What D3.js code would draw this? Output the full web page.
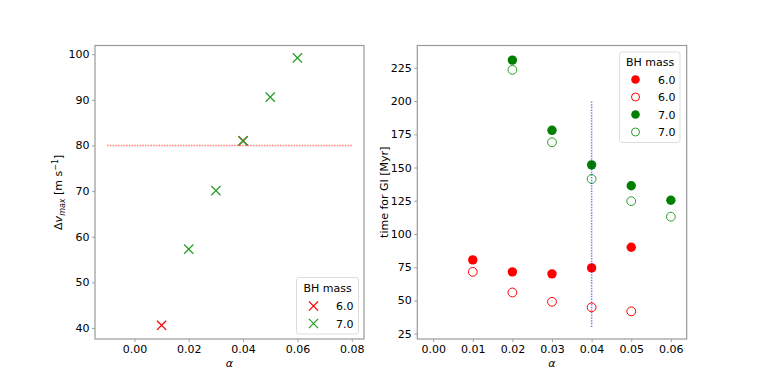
<!DOCTYPE html>
<html>
<head>
<meta charset="utf-8">
<script src="https://cdn.jsdelivr.net/npm/d3@7"></script>
<style>
  body { margin: 0; background: #fff; }
  text { font-family: "DejaVu Sans", sans-serif; }
</style>
</head>
<body>
<div id="chart"></div>
<script>
// left panel: delta v max vs alpha
var alphaLeft6 = [0.01, 0.04];
var dvLeft6 = [40.6, 81];
var alphaLeft7 = [0.02, 0.03, 0.04, 0.05, 0.06];
var dvLeft7 = [57.3, 70.1, 81, 90.6, 99.2];
var hlineX = [-0.01, 0.08];
var hlineY = 80;
var leftXTicks = [0.00, 0.02, 0.04, 0.06, 0.08];
var leftYTicks = [40, 50, 60, 70, 80, 90, 100];

// right panel: time for GI
var alphaRight = [0.01, 0.02, 0.03, 0.04, 0.05, 0.06];
var red6Filled = [80.5, 71.5, 70, 74.5, 90, null];
var red6Open = [71.5, 56, 49, 44.8, 41.8, null];
var green7Filled = [null, 230.8, 178, 152, 136.3, 125.4];
var green7Open = [null, 223.5, 169, 141.4, 124.7, 113];
var vlineX = 0.04;
var vlineY = [30, 200];
var rightXTicks = [0.00, 0.01, 0.02, 0.03, 0.04, 0.05, 0.06];
var rightYTicks = [25, 50, 75, 100, 125, 150, 175, 200, 225];

var red = "#ff0000", green = "#008000", green2 = "#2ca02c";
var fs = 11;

var svg = d3.select("#chart").append("svg")
    .attr("width", 763).attr("height", 382);

var top_y = 45.5, bottom_y = 339;

function frame(g, x0, x1, xs, ys, xticks, yticks, xfmt) {
    var xAxis = g.append("g").attr("transform", "translate(0," + bottom_y + ")")
        .call(d3.axisBottom(xs).tickValues(xticks).tickFormat(xfmt).tickSize(3).tickPadding(3));
    var yAxis = g.append("g").attr("transform", "translate(" + x0 + ",0)")
        .call(d3.axisLeft(ys).tickValues(yticks).tickSize(3).tickPadding(2.5));
    [xAxis, yAxis].forEach(function (a) {
        a.select(".domain").remove();
        a.selectAll("line").attr("stroke", "#888").attr("stroke-width", 0.8);
        a.selectAll("text").attr("font-size", fs).attr("fill", "#000")
            .attr("font-family", "DejaVu Sans, sans-serif");
    });
    g.append("rect").attr("x", x0).attr("y", top_y)
        .attr("width", x1 - x0).attr("height", bottom_y - top_y)
        .attr("fill", "none").attr("stroke", "#999").attr("stroke-width", 1.2);
    g.append("text").attr("x", (x0 + x1) / 2).attr("y", 367)
        .attr("text-anchor", "middle").attr("font-size", fs).attr("font-style", "italic")
        .text("α");
}

function xMark(g, cx, cy, color) {
    var s = 4.6;
    g.append("path")
        .attr("d", "M" + (cx - s) + "," + (cy - s) + "L" + (cx + s) + "," + (cy + s) +
                   "M" + (cx - s) + "," + (cy + s) + "L" + (cx + s) + "," + (cy - s))
        .attr("stroke", color).attr("stroke-width", 1.3).attr("fill", "none");
}

// ---------- left panel ----------
var L = svg.append("g");
var lx0 = 95, lx1 = 364;
var xL = d3.scaleLinear().domain([-0.0145, 0.0845]).range([lx0, lx1]);
var yL = d3.scaleLinear().domain([37.6, 101.9]).range([bottom_y, top_y]);
frame(L, lx0, lx1, xL, yL, leftXTicks, leftYTicks, d3.format(".2f"));

alphaLeft6.forEach(function (a, i) { xMark(L, xL(a), yL(dvLeft6[i]), red); });
alphaLeft7.forEach(function (a, i) { xMark(L, xL(a), yL(dvLeft7[i]), green2); });

L.append("line")
    .attr("x1", xL(hlineX[0])).attr("x2", xL(hlineX[1]))
    .attr("y1", yL(hlineY)).attr("y2", yL(hlineY))
    .attr("stroke", red).attr("stroke-width", 1.5).attr("stroke-dasharray", "1.5,1.2")
    .attr("opacity", 0.5);

var lyl = L.append("text")
    .attr("transform", "translate(62," + ((top_y + bottom_y) / 2) + ") rotate(-90)")
    .attr("text-anchor", "middle").attr("font-size", fs);
lyl.append("tspan").text("Δ");
lyl.append("tspan").attr("font-style", "italic").text("v");
lyl.append("tspan").attr("font-style", "italic").attr("font-size", 8).attr("dy", 2.5).text("max");
lyl.append("tspan").attr("dy", -2.5).text(" [m s");
lyl.append("tspan").attr("font-size", 8).attr("dy", -4.5).text("−1");
lyl.append("tspan").attr("dy", 4.5).text("]");

// left legend
var lg = L.append("g").attr("transform", "translate(296.5,277.5)");
lg.append("rect").attr("width", 62).attr("height", 56.5).attr("rx", 2.5)
    .attr("fill", "#fff").attr("fill-opacity", 0.8).attr("stroke", "#ddd");
lg.append("text").attr("x", 31).attr("y", 14.5).attr("text-anchor", "middle")
    .attr("font-size", fs).text("BH mass");
[["6.0", red], ["7.0", green2]].forEach(function (d, i) {
    xMark(lg, 17, 28.5 + i * 17.5, d[1]);
    lg.append("text").attr("x", 57).attr("y", 32.5 + i * 17.5).attr("text-anchor", "end")
        .attr("font-size", fs).text(d[0]);
});

// ---------- right panel ----------
var R = svg.append("g");
var rx0 = 417.3, rx1 = 686.7;
var xR = d3.scaleLinear().domain([-0.004, 0.064]).range([rx0, rx1]);
var yR = d3.scaleLinear().domain([21, 241.8]).range([bottom_y, top_y]);
frame(R, rx0, rx1, xR, yR, rightXTicks, rightYTicks, d3.format(".2f"));

function dots(vals, color, filled) {
    var pts = alphaRight.map(function (a, i) { return { a: a, v: vals[i] }; })
        .filter(function (d) { return d.v !== null; });
    R.selectAll(null).data(pts).enter().append("circle")
        .attr("cx", function (d) { return xR(d.a); })
        .attr("cy", function (d) { return yR(d.v); })
        .attr("r", filled ? 4.7 : 4.4)
        .attr("fill", filled ? color : "none")
        .attr("stroke", color).attr("stroke-width", filled ? 0 : 1);
}
dots(red6Filled, red, true);
dots(red6Open, red, false);
dots(green7Filled, green, true);
dots(green7Open, green2, false);

R.append("line")
    .attr("x1", xR(vlineX)).attr("x2", xR(vlineX))
    .attr("y1", yR(vlineY[0])).attr("y2", yR(vlineY[1]))
    .attr("stroke", "#0000ff").attr("stroke-width", 1.5).attr("stroke-dasharray", "1.5,1.2")
    .attr("opacity", 0.5);

R.append("text")
    .attr("transform", "translate(388," + ((top_y + bottom_y) / 2) + ") rotate(-90)")
    .attr("text-anchor", "middle").attr("font-size", fs).text("time for GI [Myr]");

// right legend
var rg = R.append("g").attr("transform", "translate(619.5,52)");
rg.append("rect").attr("width", 60.5).attr("height", 90.5).attr("rx", 2.5)
    .attr("fill", "#fff").attr("fill-opacity", 0.8).attr("stroke", "#ddd");
rg.append("text").attr("x", 30.5).attr("y", 14).attr("text-anchor", "middle")
    .attr("font-size", fs).text("BH mass");
[["6.0", red, true], ["6.0", red, false], ["7.0", green, true], ["7.0", green2, false]]
    .forEach(function (d, i) {
        var cy = 27.5 + i * 17.5;
        rg.append("circle").attr("cx", 16).attr("cy", cy).attr("r", d[2] ? 4.3 : 4)
            .attr("fill", d[2] ? d[1] : "none").attr("stroke", d[1])
            .attr("stroke-width", d[2] ? 0 : 1);
        rg.append("text").attr("x", 56).attr("y", cy + 4).attr("text-anchor", "end")
            .attr("font-size", fs).text(d[0]);
    });
</script>
</body>
</html>
